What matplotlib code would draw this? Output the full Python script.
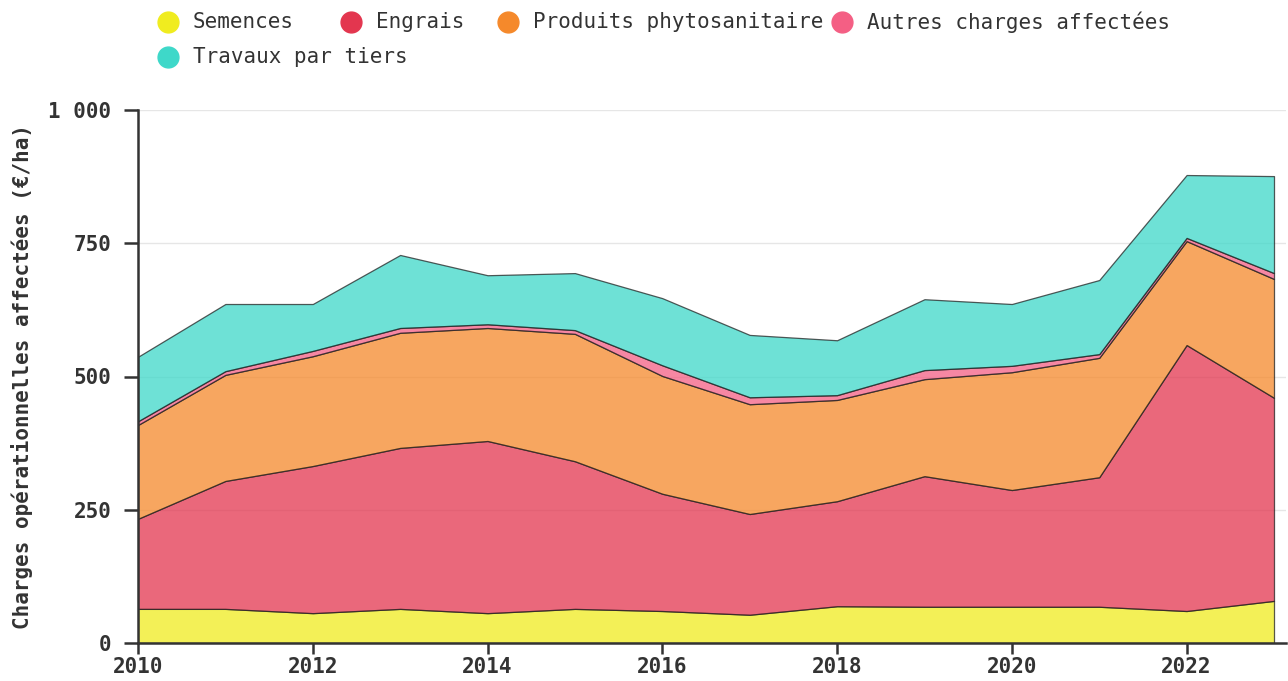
import matplotlib.pyplot as plt
from matplotlib.lines import Line2D
from matplotlib.ticker import FuncFormatter

years = list(range(2010, 2024))

# valeurs (€/ha)
semences = [64, 64, 56, 64, 56, 64, 60, 53, 69, 68, 68, 68, 60, 79]
engrais = [169, 240, 276, 302, 323, 277, 220, 189, 197, 245, 219, 243, 499, 381]
phyto = [176, 199, 206, 216, 212, 239, 221, 206, 190, 182, 221, 224, 195, 223]
autres = [7, 7, 10, 9, 7, 7, 20, 13, 9, 17, 12, 7, 6, 11]
travaux = [121, 126, 88, 137, 92, 107, 126, 117, 103, 133, 116, 139, 118, 182]

labels = ["Semences", "Engrais", "Produits phytosanitaire",
          "Autres charges affectées", "Travaux par tiers"]
colors = ["#F0EC1F", "#E3364F", "#F5892B", "#F45F84", "#3ED8C9"]

plt.rcParams["font.family"] = ["DejaVu Sans Mono", "DejaVu Sans"]
text_color = "#333333"

fig = plt.figure(figsize=(12.88, 6.81), dpi=100)
ax = fig.add_axes([138 / 1288, 38 / 681, 1148 / 1288, 533 / 681])

ax.stackplot(years, semences, engrais, phyto, autres, travaux,
             colors=colors, alpha=0.75, edgecolor="#222222", linewidth=0.9)

ax.set_xlim(2010, 2023 + 12 / 87.4)
ax.set_ylim(0, 1000)
ax.set_xticks(range(2010, 2024, 2))
ax.set_yticks([0, 250, 500, 750, 1000])
ax.yaxis.set_major_formatter(FuncFormatter(lambda v, p: f"{int(v):,}".replace(",", " ")))
ax.grid(axis="y", color="#e6e6e6", linewidth=1)
ax.set_axisbelow(True)

for s in ["top", "right"]:
    ax.spines[s].set_visible(False)
for s in ["left", "bottom"]:
    ax.spines[s].set_color(text_color)
    ax.spines[s].set_linewidth(1.8)

ax.tick_params(axis="y", length=10, width=1.8, color=text_color, pad=9,
               labelsize=15, labelcolor=text_color)
ax.tick_params(axis="x", length=8, width=1.8, color=text_color, pad=2,
               labelsize=15, labelcolor=text_color)
for t in ax.get_xticklabels() + ax.get_yticklabels():
    t.set_fontweight("bold")

ax.set_ylabel("Charges opérationnelles affectées (€/ha)", fontsize=15,
              fontweight="bold", color=text_color, labelpad=11)

# légende en ligne, comme l'original
leg_pos = [(168, 22), (351, 22), (508, 22), (842, 22), (168, 57)]
for (px, py), lab, c in zip(leg_pos, labels, colors):
    fig.add_artist(Line2D([px / 1288], [1 - py / 681], marker="o",
                          markersize=15, color=c, linestyle="none",
                          transform=fig.transFigure))
    fig.text((px + 25) / 1288, 1 - py / 681, lab, fontsize=15,
             color=text_color, va="center", ha="left")

fig.savefig("out.png", dpi=100)
